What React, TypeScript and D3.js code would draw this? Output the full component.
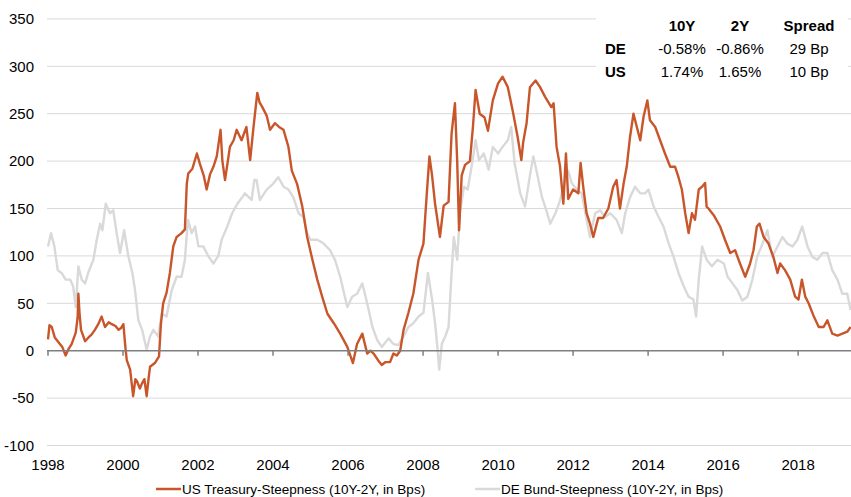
import React, { useEffect, useRef } from 'react';
import * as d3 from 'd3';

// [year, bps]
const usSteepness: [number, number][] = [
  [1998.0, 12], [1998.04, 27], [1998.1, 25], [1998.18, 14], [1998.28, 9], [1998.38, 4], [1998.47, -5],
  [1998.55, 2], [1998.63, 7], [1998.74, 19], [1998.79, 35], [1998.81, 60], [1998.84, 40], [1998.88, 22],
  [1998.99, 10], [1999.08, 14], [1999.16, 17], [1999.25, 22], [1999.34, 28], [1999.43, 36], [1999.52, 25],
  [1999.62, 30], [1999.7, 28], [1999.8, 26], [1999.88, 22], [1999.95, 24], [2000.01, 28], [2000.06, 5],
  [2000.1, -10], [2000.19, -20], [2000.27, -48], [2000.33, -30], [2000.37, -32], [2000.45, -40], [2000.5, -35],
  [2000.57, -30], [2000.63, -48], [2000.68, -30], [2000.72, -17], [2000.85, -13], [2000.96, -6], [2001.01, 28],
  [2001.07, 50], [2001.16, 61], [2001.25, 82], [2001.34, 110], [2001.43, 120], [2001.56, 124], [2001.65, 128],
  [2001.7, 176], [2001.74, 187], [2001.85, 192], [2001.97, 208], [2002.05, 197], [2002.15, 185], [2002.23, 170],
  [2002.32, 186], [2002.41, 194], [2002.5, 205], [2002.6, 233], [2002.65, 200], [2002.72, 180], [2002.85, 215],
  [2002.95, 222], [2003.03, 233], [2003.16, 222], [2003.29, 236], [2003.39, 201], [2003.48, 236], [2003.58, 272],
  [2003.64, 262], [2003.7, 258], [2003.83, 248], [2003.92, 233], [2004.05, 240], [2004.16, 236], [2004.28, 233],
  [2004.41, 215], [2004.5, 190], [2004.64, 176], [2004.78, 152], [2004.91, 120], [2005.05, 96], [2005.18, 75],
  [2005.31, 57], [2005.45, 39], [2005.62, 29], [2005.79, 18], [2005.98, 4], [2006.13, -13], [2006.24, 7],
  [2006.38, 18], [2006.51, -3], [2006.6, 0], [2006.68, -3], [2006.8, -10], [2006.9, -15], [2007.0, -12],
  [2007.12, -12], [2007.21, -3], [2007.3, -5], [2007.39, 0], [2007.48, 22], [2007.61, 40], [2007.74, 60],
  [2007.88, 96], [2008.01, 113], [2008.1, 166], [2008.17, 205], [2008.24, 185], [2008.32, 155], [2008.45, 120],
  [2008.55, 153], [2008.68, 157], [2008.76, 229], [2008.85, 261], [2008.91, 200], [2008.96, 127], [2009.03, 185],
  [2009.12, 196], [2009.25, 200], [2009.33, 236], [2009.4, 275], [2009.51, 250], [2009.64, 246], [2009.73, 232],
  [2009.86, 264], [2010.0, 282], [2010.12, 289], [2010.26, 278], [2010.39, 253], [2010.52, 226], [2010.62, 201],
  [2010.67, 220], [2010.76, 240], [2010.85, 278], [2011.0, 285], [2011.12, 278], [2011.25, 268], [2011.42, 257],
  [2011.48, 261], [2011.56, 215], [2011.65, 195], [2011.74, 155], [2011.81, 208], [2011.87, 160], [2012.0, 170],
  [2012.14, 166], [2012.2, 198], [2012.27, 173], [2012.36, 145], [2012.45, 134], [2012.54, 120], [2012.67, 140],
  [2012.8, 140], [2012.94, 150], [2013.07, 173], [2013.16, 180], [2013.25, 150], [2013.35, 177], [2013.43, 194],
  [2013.52, 226], [2013.61, 250], [2013.7, 236], [2013.79, 222], [2013.88, 247], [2013.98, 264], [2014.05, 243],
  [2014.19, 236], [2014.32, 222], [2014.45, 208], [2014.59, 194], [2014.72, 194], [2014.81, 183], [2014.9, 170],
  [2014.99, 145], [2015.08, 124], [2015.17, 145], [2015.25, 138], [2015.35, 170], [2015.44, 173], [2015.52, 177],
  [2015.56, 152], [2015.61, 150], [2015.75, 143], [2015.92, 131], [2016.05, 117], [2016.19, 103], [2016.32, 106],
  [2016.45, 92], [2016.59, 78], [2016.72, 92], [2016.81, 106], [2016.9, 131], [2016.97, 134], [2017.08, 120],
  [2017.21, 113], [2017.34, 99], [2017.45, 82], [2017.52, 92], [2017.65, 85], [2017.79, 75], [2017.92, 57],
  [2018.01, 54], [2018.1, 75], [2018.19, 57], [2018.28, 50], [2018.42, 36], [2018.55, 25], [2018.68, 25],
  [2018.78, 32], [2018.91, 18], [2019.05, 16], [2019.18, 18], [2019.31, 20], [2019.4, 25],
];

const deSteepness: [number, number][] = [
  [1998.0, 110], [1998.08, 124], [1998.17, 110], [1998.26, 85], [1998.36, 82], [1998.47, 75], [1998.59, 75],
  [1998.67, 68], [1998.74, 46], [1998.81, 89], [1998.9, 75], [1998.99, 71], [1999.07, 82], [1999.21, 96],
  [1999.3, 117], [1999.39, 134], [1999.45, 127], [1999.54, 155], [1999.65, 145], [1999.74, 148], [1999.83, 124],
  [1999.92, 103], [2000.03, 127], [2000.14, 100], [2000.25, 82], [2000.32, 64], [2000.41, 32], [2000.51, 22],
  [2000.63, 1], [2000.72, 15], [2000.81, 22], [2000.94, 15], [2001.03, 39], [2001.16, 36], [2001.3, 64],
  [2001.43, 78], [2001.56, 78], [2001.65, 96], [2001.73, 138], [2001.83, 124], [2001.92, 131], [2002.01, 110],
  [2002.14, 110], [2002.27, 100], [2002.41, 92], [2002.54, 100], [2002.63, 117], [2002.78, 131], [2002.91, 145],
  [2003.05, 155], [2003.18, 162], [2003.25, 166], [2003.43, 159], [2003.5, 180], [2003.56, 180], [2003.65, 159],
  [2003.83, 170], [2004.0, 176], [2004.14, 183], [2004.28, 173], [2004.41, 170], [2004.54, 162], [2004.68, 145],
  [2004.81, 141], [2004.91, 124], [2005.0, 117], [2005.18, 117], [2005.35, 113], [2005.52, 106], [2005.65, 96],
  [2005.79, 78], [2005.98, 46], [2006.11, 57], [2006.24, 60], [2006.38, 71], [2006.51, 50], [2006.65, 25],
  [2006.78, 11], [2006.9, 4], [2007.08, 13], [2007.21, 7], [2007.34, 6], [2007.48, 15], [2007.61, 25],
  [2007.74, 29], [2007.88, 36], [2008.01, 40], [2008.13, 82], [2008.24, 54], [2008.32, 29], [2008.39, 0],
  [2008.43, -20], [2008.5, 7], [2008.59, 15], [2008.68, 25], [2008.75, 75], [2008.82, 120], [2008.91, 96],
  [2008.98, 145], [2009.09, 173], [2009.19, 170], [2009.31, 198], [2009.4, 222], [2009.49, 201], [2009.62, 208],
  [2009.75, 191], [2009.86, 215], [2010.0, 208], [2010.12, 215], [2010.26, 222], [2010.35, 236], [2010.44, 198],
  [2010.59, 166], [2010.72, 152], [2010.85, 185], [2010.94, 205], [2011.04, 187], [2011.17, 162], [2011.31, 145],
  [2011.39, 134], [2011.53, 145], [2011.65, 158], [2011.79, 180], [2011.87, 190], [2011.96, 177], [2012.1, 170],
  [2012.23, 166], [2012.36, 138], [2012.45, 120], [2012.59, 145], [2012.72, 148], [2012.85, 141], [2012.99, 145],
  [2013.16, 138], [2013.3, 124], [2013.39, 145], [2013.52, 162], [2013.65, 173], [2013.79, 166], [2013.92, 166],
  [2014.01, 170], [2014.15, 152], [2014.28, 141], [2014.41, 131], [2014.55, 113], [2014.68, 99], [2014.81, 82],
  [2014.95, 68], [2015.08, 57], [2015.21, 54], [2015.28, 36], [2015.35, 75], [2015.44, 110], [2015.56, 96],
  [2015.7, 89], [2015.85, 96], [2016.02, 92], [2016.12, 78], [2016.25, 71], [2016.38, 64], [2016.51, 53],
  [2016.65, 57], [2016.78, 75], [2016.91, 99], [2017.05, 113], [2017.18, 127], [2017.31, 99], [2017.45, 110],
  [2017.58, 120], [2017.71, 113], [2017.85, 110], [2017.98, 117], [2018.11, 131], [2018.25, 110], [2018.38, 99],
  [2018.51, 96], [2018.65, 103], [2018.78, 103], [2018.91, 85], [2019.05, 75], [2019.18, 60], [2019.31, 60],
  [2019.4, 43],
];

const yTicks = [-100, -50, 0, 50, 100, 150, 200, 250, 300, 350];
const xTicks = [1998, 2000, 2002, 2004, 2006, 2008, 2010, 2012, 2014, 2016, 2018];

const tableCols = ['10Y', '2Y', 'Spread'];
const tableRows = [
  { label: 'DE', values: ['-0.58%', '-0.86%', '29 Bp'] },
  { label: 'US', values: ['1.74%', '1.65%', '10 Bp'] },
];

const legendItems = [
  { label: 'US Treasury-Steepness (10Y-2Y, in Bps)', color: '#c8562a' },
  { label: 'DE Bund-Steepness (10Y-2Y, in Bps)', color: '#d9d9d9' },
];

const W = 851;
const H = 497;
const FONT = '"Liberation Sans", Arial, sans-serif';

const App = () => {
  const ref = useRef<SVGSVGElement | null>(null);

  useEffect(() => {
    const svg = d3.select(ref.current);
    svg.selectAll('*').remove();

    const x = d3.scaleLinear().domain([1998, 2019.41]).range([48, 851]);
    const y = d3.scaleLinear().domain([-100, 350]).range([445.5, 18.9]);

    // gridlines
    svg.append('g')
      .selectAll('line')
      .data(yTicks.filter(d => d !== 0))
      .enter()
      .append('line')
      .attr('x1', 47).attr('x2', W)
      .attr('y1', d => y(d)).attr('y2', d => y(d))
      .attr('stroke', '#d9d9d9').attr('stroke-width', 1);

    svg.append('g')
      .selectAll('text')
      .data(yTicks)
      .enter()
      .append('text')
      .attr('x', 34)
      .attr('y', d => y(d))
      .attr('dy', '0.35em')
      .attr('text-anchor', 'end')
      .style('font-family', FONT)
      .style('font-size', '15px')
      .attr('fill', '#000')
      .text(d => d);

    const line = d3.line<[number, number]>()
      .x(d => x(d[0]))
      .y(d => y(d[1]));

    svg.append('path')
      .datum(deSteepness)
      .attr('d', line)
      .attr('fill', 'none')
      .attr('stroke', '#d9d9d9')
      .attr('stroke-width', 2.4)
      .attr('stroke-linejoin', 'round');

    svg.append('path')
      .datum(usSteepness)
      .attr('d', line)
      .attr('fill', 'none')
      .attr('stroke', '#c8562a')
      .attr('stroke-width', 2.4)
      .attr('stroke-linejoin', 'round');

    // zero axis with ticks
    const xAxis = svg.append('g').attr('transform', `translate(0,${y(0)})`);
    xAxis.append('line')
      .attr('x1', 47).attr('x2', W)
      .attr('stroke', '#7f7f7f').attr('stroke-width', 1.5);
    xAxis.selectAll('line.tick')
      .data(xTicks)
      .enter()
      .append('line')
      .attr('class', 'tick')
      .attr('x1', d => x(d)).attr('x2', d => x(d))
      .attr('y1', 0).attr('y2', 5)
      .attr('stroke', '#7f7f7f').attr('stroke-width', 1.5);

    svg.append('g')
      .selectAll('text')
      .data(xTicks)
      .enter()
      .append('text')
      .attr('x', d => x(d))
      .attr('y', 465)
      .attr('dy', '0.35em')
      .attr('text-anchor', 'middle')
      .style('font-family', FONT)
      .style('font-size', '15px')
      .text(d => d);

    // info table
    const table = svg.append('g');
    table.append('rect')
      .attr('x', 596).attr('y', 6).attr('width', 252).attr('height', 80)
      .attr('fill', '#fff');
    const colX = [682, 740, 809];
    table.selectAll('text.head')
      .data(tableCols)
      .enter()
      .append('text')
      .attr('class', 'head')
      .attr('x', (d, i) => colX[i])
      .attr('y', 31)
      .attr('text-anchor', 'middle')
      .style('font-family', FONT)
      .style('font-size', '15px')
      .style('font-weight', 'bold')
      .text(d => d);
    tableRows.forEach((row, r) => {
      const by = 54 + r * 23;
      table.append('text')
        .attr('x', 605).attr('y', by)
        .style('font-family', FONT)
        .style('font-size', '15px')
        .style('font-weight', 'bold')
        .text(row.label);
      row.values.forEach((v, i) => {
        table.append('text')
          .attr('x', colX[i]).attr('y', by)
          .attr('text-anchor', 'middle')
          .style('font-family', FONT)
          .style('font-size', '15px')
          .text(v);
      });
    });

    // legend
    const legendX = [156, 475];
    const legend = svg.append('g');
    legendItems.forEach((item, i) => {
      legend.append('line')
        .attr('x1', legendX[i]).attr('x2', legendX[i] + 25)
        .attr('y1', 489).attr('y2', 489)
        .attr('stroke', item.color).attr('stroke-width', 2.5);
      legend.append('text')
        .attr('x', legendX[i] + 26).attr('y', 489)
        .attr('dy', '0.35em')
        .style('font-family', FONT)
        .style('font-size', '13.5px')
        .text(item.label);
    });
  }, []);

  return (
    <svg
      ref={ref}
      width={W}
      height={H}
      style={{ position: 'absolute', left: 0, top: 0, background: '#fff' }}
    />
  );
};

export default App;
